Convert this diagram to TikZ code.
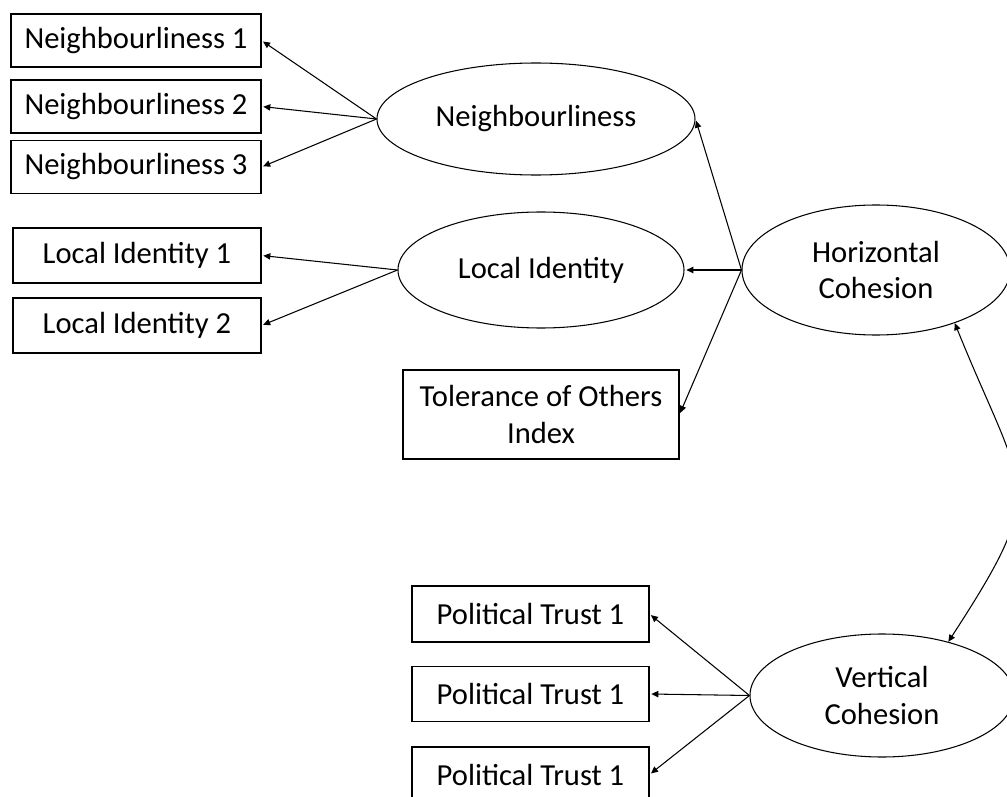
\documentclass[tikz,border=0pt]{standalone}
\usepackage{fontspec}
\setmainfont{Carlito}
\usetikzlibrary{shapes.geometric}
\usetikzlibrary{arrows.meta}
\tikzset{
	indicator/.style={rectangle,draw,line width=0.6pt,inner sep=0pt,align=center,
		font=\fontsize{17.4}{21}\selectfont},
	latent/.style={ellipse,draw,line width=0.6pt,inner sep=0pt,align=center,
		font=\fontsize{17.4}{21}\selectfont},
	load/.style={-{Triangle[length=4pt,width=3.6pt]},line width=0.6pt,shorten >=1pt},
	corr/.style={{Triangle[length=4pt,width=3.6pt]}-{Triangle[length=4pt,width=3.6pt]},
		line width=0.6pt}
}

\begin{document}
\begin{tikzpicture}

        % frame of the picture (the right side is cut off)
        \clip (0,0) rectangle (20.14,15.92);

        % ==================================================
        % 1. NEIGHBOURLINESS
        % ==================================================
        \node[indicator,minimum width=5cm,minimum height=1.06cm] (N1) at (2.72,15.11) {Neighbourliness 1};
        \node[indicator,minimum width=5cm,minimum height=1.06cm] (N2) at (2.72,13.79) {Neighbourliness 2};
        \node[indicator,minimum width=5cm,minimum height=1.06cm] (N3) at (2.72,12.58) {Neighbourliness 3};
        
        \node[latent,minimum width=6.36cm,minimum height=2.24cm] (Nb) at (10.72,13.54) {Neighbourliness};
        
        \draw[load] (Nb.west) -- (N1.east);
        \draw[load] (Nb.west) -- (N2.east);
        \draw[load] (Nb.west) -- (N3.east);

        % ==================================================
        % 2. LOCAL IDENTITY AND TOLERANCE
        % ==================================================
        \node[indicator,minimum width=4.96cm,minimum height=1.1cm] (L1) at (2.74,10.81) {Local Identity 1};
        \node[indicator,minimum width=4.96cm,minimum height=1.1cm] (L2) at (2.74,9.41) {Local Identity 2};
        
        \node[latent,minimum width=5.72cm,minimum height=2.32cm] (LI) at (10.82,10.52) {Local Identity};
        
        \draw[load] (LI.west) -- (L1.east);
        \draw[load] (LI.west) -- (L2.east);
        
        \node[indicator,minimum width=5.52cm,minimum height=1.78cm] (Tol) at (10.82,7.63) {Tolerance of Others\\Index};

        % ==================================================
        % 3. HORIZONTAL COHESION
        % ==================================================
        \node[latent,minimum width=5.36cm,minimum height=2.6cm] (HC) at (17.52,10.52) {Horizontal\\Cohesion};
        
        \draw[load] (HC.west) -- (Nb.east);
        \draw[load] (HC.west) -- (LI.east);
        \draw[load] (HC.west) -- (Tol.east);

        % ==================================================
        % 4. VERTICAL COHESION
        % ==================================================
        \node[indicator,minimum width=4.74cm,minimum height=1.12cm] (P1) at (10.61,3.64) {Political Trust 1};
        \node[indicator,minimum width=4.74cm,minimum height=1.1cm] (P2) at (10.61,2.04) {Political Trust 1};
        \node[indicator,minimum width=4.74cm,minimum height=1.1cm] (P3) at (10.61,0.43) {Political Trust 1};
        
        \node[latent,minimum width=5.28cm,minimum height=2.46cm] (VC) at (17.64,2.01) {Vertical\\Cohesion};
        
        \draw[load] (VC.west) -- (P1.east);
        \draw[load] (VC.west) -- (P2.east);
        \draw[load] (VC.west) -- (P3.east);

        % covariance
        \draw[corr] (HC.-34) to[out=-68,in=57,looseness=1.5] (VC.39);

    \end{tikzpicture}
\end{document}
